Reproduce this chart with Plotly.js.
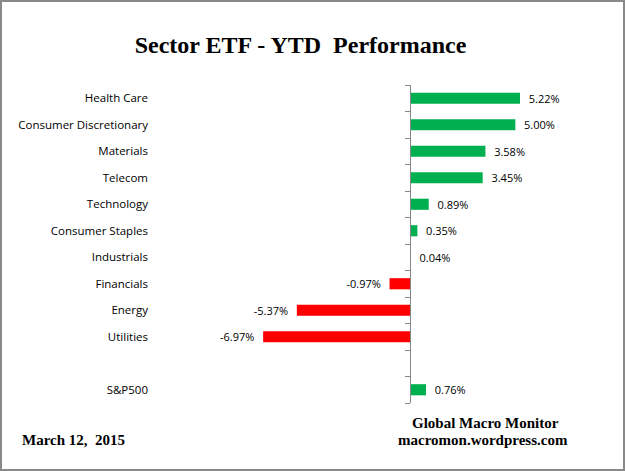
<!DOCTYPE html>
<html>
<head>
<meta charset="utf-8">
<script src="https://cdn.plot.ly/plotly-3.0.1.min.js"></script>
<style>
  html, body { margin: 0; padding: 0; background: #fff; }
  #wrap { position: relative; width: 625px; height: 471px; }
  #chart { width: 625px; height: 471px; }
  #frame { position: absolute; left: 0; top: 0; width: 625px; height: 471px;
           box-sizing: border-box; border: 2px solid #898989; pointer-events: none; }
</style>
</head>
<body>
<div id="wrap"><div id="chart"></div><div id="frame"></div></div>
<script>
// ---- data ----
const sectors = ["Health Care", "Consumer Discretionary", "Materials", "Telecom", "Technology",
                 "Consumer Staples", "Industrials", "Financials", "Energy", "Utilities"];
const sectorValues = [5.22, 5.00, 3.58, 3.45, 0.89, 0.35, 0.04, -0.97, -5.37, -6.97];
const benchmarkLabel = "S&P500";
const benchmarkValue = 0.76;

const titleText = "Sector ETF - YTD\u00A0\u00A0Performance";
const dateText = "March 12,\u00A0\u00A02015";
const sourceLine1 = "Global Macro Monitor";
const sourceLine2 = "macromon.wordpress.com";

// ---- layout geometry (pixels) ----
const W = 625, H = 471;
const mL = 149, mR = 25, mT = 85, mB = 68;
const zeroPx = 410, pxPerUnit = 21.07;
const plotW = W - mL - mR, plotH = H - mT - mB;
const xMin = -(zeroPx - mL) / pxPerUnit;
const xMax = (W - mR - zeroPx) / pxPerUnit;
const px2x = px => (px - mL) / plotW;
const py2y = py => (H - mB - py) / plotH;

// positions: sectors 0..n-1, a blank slot, then the benchmark
const labels = sectors.concat([benchmarkLabel]);
const values = sectorValues.concat([benchmarkValue]);
const ypos = sectors.map((_, i) => i).concat([sectors.length + 1]);
const nSlots = sectors.length + 2;
const yRange = [nSlots - 0.5, -0.5];
const boundaries = [];
for (let i = 0; i <= nSlots; i++) boundaries.push(i - 0.5);

const colors = values.map(v => v >= 0 ? "#00B050" : "#FF0000");
const texts = values.map(v => v >= 0 ? "\u00A0\u00A0" + v.toFixed(2) + "%" : v.toFixed(2) + "%\u00A0\u00A0");

const labelFont = "'Open Sans', 'Noto Sans', sans-serif";
const serif = "'Liberation Serif', 'DejaVu Serif', serif";

const trace = {
  type: "bar",
  orientation: "h",
  x: values,
  y: ypos,
  width: 0.42,
  marker: { color: colors, line: { width: 0 } },
  text: texts,
  textposition: "outside",
  constraintext: "none",
  cliponaxis: false,
  textfont: { family: labelFont, size: 11, color: "#000" },
  hoverinfo: "skip",
  showlegend: false
};

// empty helper trace so that the overlaid zero-axis (y2) is drawn
const axisHelper = {
  type: "scatter", mode: "none", x: [], y: [],
  xaxis: "x", yaxis: "y2", hoverinfo: "skip", showlegend: false
};

const layout = {
  width: W, height: H,
  margin: { l: mL, r: mR, t: mT, b: mB, pad: 0 },
  paper_bgcolor: "#fff",
  plot_bgcolor: "#fff",
  showlegend: false,
  title: {
    text: "<b>" + titleText + "</b>",
    font: { family: serif, size: 24, color: "#000" },
    xref: "container", yref: "container",
    x: 300.5 / W, y: 1 - 45 / H, xanchor: "center", yanchor: "middle"
  },
  xaxis: {
    range: [xMin, xMax],
    showgrid: false, zeroline: false, showline: false,
    showticklabels: false, ticks: "", fixedrange: true
  },
  yaxis: {
    range: yRange,
    tickvals: ypos,
    ticktext: labels,
    tickfont: { family: labelFont, size: 11.5, color: "#000" },
    ticks: "", showgrid: false, zeroline: false, showline: false,
    fixedrange: true
  },
  yaxis2: {
    overlaying: "y",
    anchor: "free",
    position: (0 - xMin) / (xMax - xMin),
    side: "left",
    range: yRange,
    tickmode: "array",
    tickvals: boundaries,
    ticktext: boundaries.map(() => ""),
    ticks: "outside", ticklen: 5, tickwidth: 1, tickcolor: "#868686",
    showline: true, linecolor: "#868686", linewidth: 1,
    showticklabels: false, showgrid: false, zeroline: false,
    fixedrange: true
  },
  annotations: [
    { text: "<b>" + sourceLine1 + "</b>", xref: "paper", yref: "paper",
      x: px2x(485.5), y: py2y(423), xanchor: "center", yanchor: "middle",
      showarrow: false, font: { family: serif, size: 15, color: "#000" } },
    { text: "<b>" + sourceLine2 + "</b>", xref: "paper", yref: "paper",
      x: px2x(482.5), y: py2y(440), xanchor: "center", yanchor: "middle",
      showarrow: false, font: { family: serif, size: 15, color: "#000" } },
    { text: "<b>" + dateText + "</b>", xref: "paper", yref: "paper",
      x: px2x(20), y: py2y(440), xanchor: "left", yanchor: "middle",
      showarrow: false, font: { family: serif, size: 15, color: "#000" } }
  ]
};

Plotly.newPlot("chart", [trace, axisHelper], layout, { displayModeBar: false, staticPlot: true });
</script>
</body>
</html>
